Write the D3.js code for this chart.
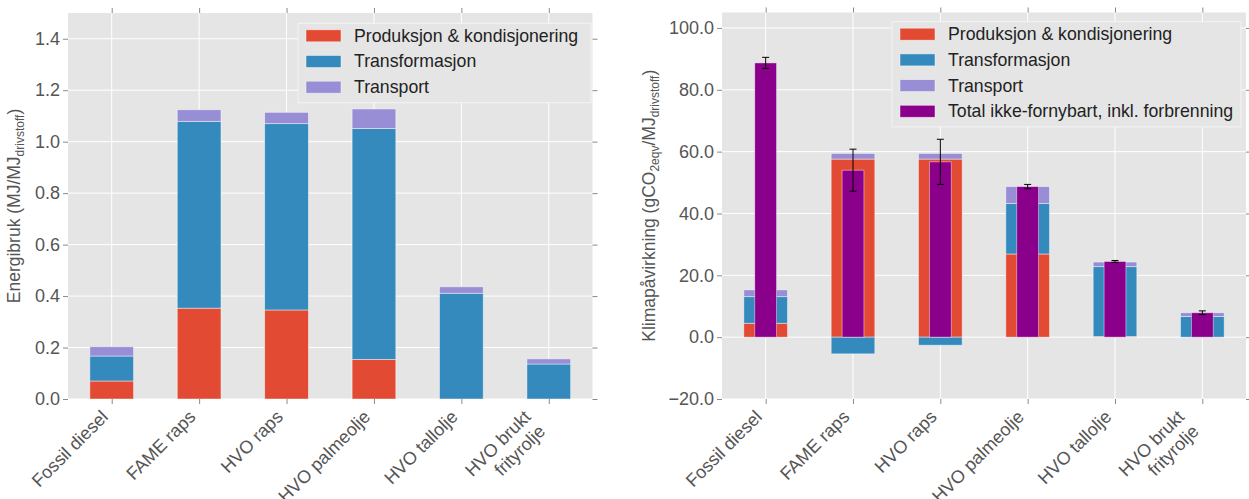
<!DOCTYPE html>
<html>
<head>
<meta charset="utf-8">
<script src="https://cdn.jsdelivr.net/npm/d3@7"></script>
<style>
  body { margin: 0; background: #fff; }
  svg { display: block; font-family: "Liberation Sans", Arial, Helvetica, sans-serif; }
  .tick text { fill: #555; font-size: 18px; }
  .tick line { stroke: #8a8a8a; }
</style>
</head>
<body>
<svg id="chart" width="1249" height="499"></svg>
<script>
// categories and series
var categories = ["Fossil diesel", "FAME raps", "HVO raps", "HVO palmeolje", "HVO tallolje", "HVO brukt\nfrityrolje"]
var seriesNames = ["Produksjon & kondisjonering", "Transformasjon", "Transport"]
var totalName = "Total ikke-fornybart, inkl. forbrenning"
var colors = ["#E24A33", "#348ABD", "#988ED5"]
var totalColor = "#8B008B"

// left: energibruk (MJ/MJ)
var energyProd      = [0.070, 0.353, 0.346, 0.154, 0.000, 0.000]
var energyTrans     = [0.097, 0.726, 0.724, 0.897, 0.411, 0.136]
var energyTransport = [0.036, 0.045, 0.044, 0.076, 0.025, 0.020]
var energyTicks = [0.0, 0.2, 0.4, 0.6, 0.8, 1.0, 1.2, 1.4]

// right: klimapåvirkning (gCO2eqv/MJ)
var climateProd      = [4.5, 57.6, 57.6, 26.9, 0.2, 0.0]
var climateTrans     = [8.6, -5.4, -2.6, 16.3, 22.6, 6.7]
var climateTransport = [2.2, 1.8, 1.8, 5.5, 1.5, 1.2]
var climateTotal     = [88.7, 54.0, 56.7, 48.7, 24.5, 7.9]
var climateTotalErr  = [1.8, 6.8, 7.3, 0.7, 0.3, 0.6]
var climateTicks = [-20, 0, 20, 40, 60, 80, 100]

var svg = d3.select("#chart")

drawPanel({
	left: 68, right: 592.5, top: 13, bottom: 399,
	domain: [0, 1.5], ticks: energyTicks,
	series: [energyProd, energyTrans, energyTransport],
	ylabel: [["Energibruk (MJ/MJ", 0], ["drivstoff", 1], [")", 0]],
	ylabelX: 20,
	legend: {x: 298, y: 23.3, w: 293, names: seriesNames, colors: colors}
})

drawPanel({
	left: 722, right: 1246, top: 12.5, bottom: 399,
	domain: [-20, 105], ticks: climateTicks,
	series: [climateProd, climateTrans, climateTransport],
	total: climateTotal, err: climateTotalErr,
	ylabel: [["Klimapåvirkning (gCO", 0], ["2eqv", 1], ["/MJ", 0], ["drivstoff", 1], [")", 0]],
	ylabelX: 655,
	legend: {x: 892, y: 21.7, w: 349, names: seriesNames.concat([totalName]), colors: colors.concat([totalColor])}
})

function drawPanel(p)
{
	var x = d3.scaleLinear().domain([-0.5, 5.5]).range([p.left, p.right])
	var y = d3.scaleLinear().domain(p.domain).range([p.bottom, p.top])
	var g = svg.append("g")
	var idx = d3.range(categories.length)

	g.append("rect")
		.attr("x", p.left).attr("y", p.top)
		.attr("width", p.right - p.left).attr("height", p.bottom - p.top)
		.attr("fill", "#E5E5E5")

	// grid
	g.selectAll(".hg").data(p.ticks).enter().append("line")
		.attr("x1", p.left).attr("x2", p.right)
		.attr("y1", function(d) { return y(d) }).attr("y2", function(d) { return y(d) })
		.attr("stroke", "#fff").attr("stroke-width", 1)
	g.selectAll(".vg").data(idx).enter().append("line")
		.attr("y1", p.top).attr("y2", p.bottom)
		.attr("x1", function(d) { return x(d) }).attr("x2", function(d) { return x(d) })
		.attr("stroke", "#fff").attr("stroke-width", 1)

	// stacked bars
	var rows = idx.map(function(i) { return p.series.map(function(s) { return s[i] }) })
	var stack = d3.stack().keys([0, 1, 2])
		.value(function(d, k) { return d[k] })
		.offset(d3.stackOffsetDiverging)
	var layers = stack(rows)
	var bw = x(0.5) - x(0)

	g.selectAll(".layer").data(layers).enter().append("g")
		.attr("fill", function(d, i) { return colors[i] })
		.selectAll("rect").data(function(d) { return d.map(function(v, i) { return {v: v, i: i} }) })
		.enter().append("rect")
		.filter(function(d) { return d.v[1] != d.v[0] })
		.attr("x", function(d) { return x(d.i) - bw / 2 })
		.attr("width", bw)
		.attr("y", function(d) { return y(Math.max(d.v[0], d.v[1])) })
		.attr("height", function(d) { return Math.abs(y(d.v[0]) - y(d.v[1])) })
		.attr("stroke", "#fff").attr("stroke-opacity", 0.55).attr("stroke-width", 0.8)

	if (p.total)
	{
		g.selectAll(".tot").data(idx).enter().append("rect")
			.attr("x", function(i) { return x(i) - bw / 4 })
			.attr("width", bw / 2)
			.attr("y", function(i) { return y(p.total[i]) })
			.attr("height", function(i) { return y(0) - y(p.total[i]) })
			.attr("fill", totalColor)
			.attr("stroke", "#fff").attr("stroke-opacity", 0.55).attr("stroke-width", 0.8)

		var eb = g.selectAll(".err").data(idx).enter().append("g").attr("stroke", "#000").attr("stroke-width", 1)
		eb.append("line")
			.attr("x1", function(i) { return x(i) }).attr("x2", function(i) { return x(i) })
			.attr("y1", function(i) { return y(p.total[i] - p.err[i]) })
			.attr("y2", function(i) { return y(p.total[i] + p.err[i]) })
		;[-1, 1].forEach(function(s) {
			eb.append("line")
				.attr("x1", function(i) { return x(i) - 3.5 }).attr("x2", function(i) { return x(i) + 3.5 })
				.attr("y1", function(i) { return y(p.total[i] + s * p.err[i]) })
				.attr("y2", function(i) { return y(p.total[i] + s * p.err[i]) })
		})
	}

	// axes
	g.append("g").attr("transform", "translate(" + p.left + ",0)")
		.call(d3.axisLeft(y).tickValues(p.ticks).tickFormat(d3.format(".1f")).tickSize(5).tickPadding(3))
	g.append("g").attr("transform", "translate(" + p.right + ",0)")
		.call(d3.axisRight(y).tickValues(p.ticks).tickFormat("").tickSize(5))
	g.append("g").attr("transform", "translate(0," + p.top + ")")
		.call(d3.axisTop(x).tickValues(idx).tickFormat("").tickSize(5))
	g.append("g").attr("transform", "translate(0," + p.bottom + ")")
		.call(d3.axisBottom(x).tickValues(idx).tickFormat("").tickSize(5))
	g.selectAll(".domain").remove()

	// rotated category labels
	var lh = 20.5
	categories.forEach(function(c, i) {
		var lines = c.split("\n")
		var n = lines.length
		var t = g.append("text")
			.attr("transform", "translate(" + (x(i) - 2.5) + "," + (p.bottom + 19 + (n - 1) * lh * 0.707) + ") rotate(-45)")
			.attr("text-anchor", "end").attr("font-size", 18).attr("fill", "#555")
		lines.forEach(function(l, k) {
			t.append("tspan").attr("x", 0).attr("y", (k - n + 1) * lh).text(l)
		})
	})

	// y label
	var yl = g.append("text")
		.attr("transform", "translate(" + p.ylabelX + "," + ((p.top + p.bottom) / 2) + ") rotate(-90)")
		.attr("text-anchor", "middle").attr("font-size", 17.5).attr("fill", "#555")
	var down = false
	p.ylabel.forEach(function(part) {
		var ts = yl.append("tspan").text(part[0])
		if (part[1] && !down) { ts.attr("font-size", 12).attr("dy", 4); down = true }
		else if (!part[1] && down) { ts.attr("dy", -4); down = false }
	})

	// legend
	var L = p.legend
	var lg = g.append("g").attr("transform", "translate(" + L.x + "," + L.y + ")")
	lg.append("rect")
		.attr("width", L.w).attr("height", 12.5 + (L.names.length - 1) * 25.7 + 15.5)
		.attr("fill", "#E5E5E5").attr("stroke", "#f4f4f4").attr("stroke-width", 1)
	L.names.forEach(function(name, i) {
		var cy = 12.5 + i * 25.7
		lg.append("rect").attr("x", 8).attr("y", cy - 6).attr("width", 35).attr("height", 12)
			.attr("fill", L.colors[i]).attr("stroke", "#fff").attr("stroke-opacity", 0.55).attr("stroke-width", 0.8)
		lg.append("text").attr("x", 56).attr("y", cy + 6)
			.attr("font-size", 17.7).attr("fill", "#222").text(name)
	})
}
</script>
</body>
</html>
